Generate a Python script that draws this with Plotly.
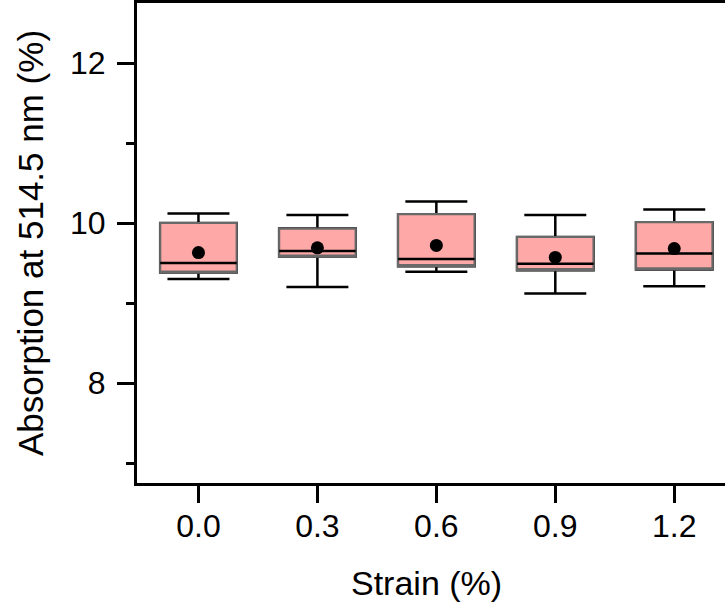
import plotly.graph_objects as go

# Data
strain = [0.0, 0.3, 0.6, 0.9, 1.2]
tick_labels = ["0.0", "0.3", "0.6", "0.9", "1.2"]
q1 = [9.38, 9.58, 9.46, 9.41, 9.42]
median = [9.50, 9.65, 9.55, 9.49, 9.62]
q3 = [10.00, 9.93, 10.11, 9.825, 10.01]
lower = [9.30, 9.20, 9.39, 9.12, 9.21]
upper = [10.12, 10.10, 10.27, 10.10, 10.17]
mean = [9.63, 9.69, 9.72, 9.57, 9.68]

y_ticks = [8, 10, 12]
y_minor = [7, 9, 11]

PINK = "rgb(255,168,168)"
GREY = "rgb(105,105,105)"
FONT = "Liberation Sans, Arial, sans-serif"
BW = 0.193

fig = go.Figure()
# whiskers (black)
fig.add_trace(go.Box(x=strain, q1=q1, median=median, q3=q3,
                     lowerfence=lower, upperfence=upper,
                     width=BW, whiskerwidth=0.81,
                     line=dict(color="black", width=2.5),
                     fillcolor=PINK, boxpoints=False, showlegend=False,
                     hoverinfo="skip"))
# box body (grey outline)
fig.add_trace(go.Box(x=strain, q1=q1, median=q1, q3=q3,
                     lowerfence=q1, upperfence=q3,
                     width=BW, whiskerwidth=0,
                     line=dict(color=GREY, width=2.2),
                     fillcolor=PINK, boxpoints=False, showlegend=False,
                     hoverinfo="skip"))
# median line (black)
fig.add_trace(go.Box(x=strain, q1=median, median=median, q3=median,
                     lowerfence=median, upperfence=median,
                     width=BW, whiskerwidth=0,
                     line=dict(color="black", width=2.5),
                     fillcolor="rgba(0,0,0,0)", boxpoints=False, showlegend=False,
                     hoverinfo="skip"))
# mean points
fig.add_trace(go.Scatter(x=strain, y=mean, mode="markers",
                         marker=dict(color="black", size=13),
                         showlegend=False, hoverinfo="skip"))

fig.update_layout(
    width=725, height=610,
    margin=dict(l=137, r=0, t=3, b=127),
    paper_bgcolor="white", plot_bgcolor="white",
    boxmode="overlay",
    font=dict(family=FONT, size=32, color="black"),
    xaxis=dict(range=[-0.155, 1.328], tickvals=strain, ticktext=tick_labels,
               showline=True, linecolor="black", linewidth=3, mirror=True,
               ticks="outside", ticklen=17, tickwidth=3, tickcolor="black",
               showgrid=False, zeroline=False, ticklabelstandoff=-4,
               tickfont=dict(family=FONT, size=32)),
    yaxis=dict(range=[6.75, 12.75], tickvals=y_ticks,
               showline=True, linecolor="black", linewidth=3, mirror=False,
               ticks="outside", ticklen=17, tickwidth=3, tickcolor="black",
               showgrid=False, zeroline=False, ticklabelstandoff=5,
               tickfont=dict(family=FONT, size=32),
               minor=dict(tickvals=y_minor, ticks="outside", ticklen=8,
                          tickwidth=3, tickcolor="black", showgrid=False)),
    annotations=[
        dict(text="Strain (%)", xref="x", x=0.576, yref="paper", y=0,
             yshift=-100, xanchor="center", yanchor="middle",
             showarrow=False, font=dict(family=FONT, size=34)),
        dict(text="Absorption at 514.5 nm (%)", xref="paper", x=0,
             xshift=-107, yref="paper", y=0.5, textangle=-90,
             xanchor="center", yanchor="middle",
             showarrow=False, font=dict(family=FONT, size=35)),
    ],
)

fig.write_html("out.html",
               config={"displayModeBar": False, "staticPlot": True},
               post_script="document.body.style.margin='0';"
                           "document.body.style.overflow='hidden';")
